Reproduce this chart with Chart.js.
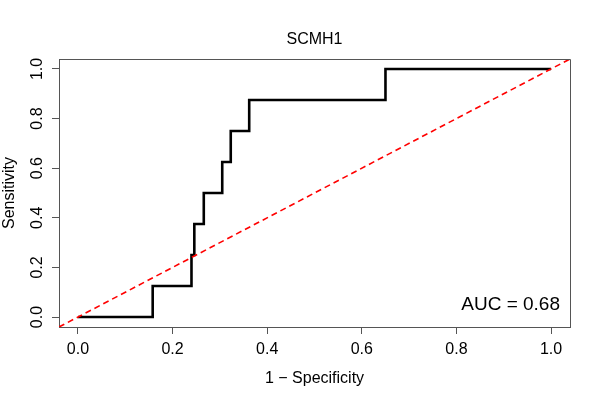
<!DOCTYPE html>
<html>
<head>
<meta charset="utf-8">
<script src="https://cdn.jsdelivr.net/npm/chart.js@4.4.1/dist/chart.umd.min.js"></script>
<style>
  html, body { margin: 0; padding: 0; background: #fff; }
</style>
</head>
<body>
<canvas id="roc" width="600" height="400"></canvas>
<script>
// ROC curve vertices (1 - specificity, sensitivity)
const falsePosRate = [0, 0.158, 0.240, 0.246, 0.266, 0.305, 0.323, 0.362, 0.650, 1.0];
const sensitivity  = [0, 0.125, 0.250, 0.375, 0.500, 0.625, 0.750, 0.875, 1.000, 1.0];
// chance line spans the whole plot region
const chanceLine = [-0.04, 1.04];
const tickValues = [0, 0.2, 0.4, 0.6, 0.8, 1.0];
const axisRange = [-0.04, 1.04];
const chartTitle = 'SCMH1';
const xTitle = '1 \u2212 Specificity';
const yTitle = 'Sensitivity';
const aucLabel = 'AUC = 0.68';

const FONT = '"Liberation Sans", Arial, Helvetica, sans-serif';
const AXIS_COLOR = '#555';

const rocPoints = falsePosRate.map((x, i) => ({ x: x, y: sensitivity[i] }));
const chancePoints = chanceLine.map(v => ({ x: v, y: v }));

// R-style labels, box and annotation
const rPlotDecor = {
  id: 'rPlotDecor',
  afterDraw(chart) {
    const ctx = chart.ctx;
    const area = chart.chartArea;
    const xs = chart.scales.x;
    const ys = chart.scales.y;
    ctx.save();

    // top and right sides of the box
    ctx.strokeStyle = AXIS_COLOR;
    ctx.lineWidth = 1;
    ctx.beginPath();
    ctx.moveTo(Math.round(area.left) + 0.5, Math.round(area.top) + 0.5);
    ctx.lineTo(Math.round(area.right) + 0.5, Math.round(area.top) + 0.5);
    ctx.lineTo(Math.round(area.right) + 0.5, Math.round(area.bottom) + 0.5);
    ctx.stroke();

    ctx.fillStyle = '#000';
    ctx.textAlign = 'center';
    ctx.textBaseline = 'alphabetic';

    // x tick labels
    ctx.font = '16px ' + FONT;
    tickValues.forEach(v => {
      ctx.fillText(v.toFixed(1), xs.getPixelForValue(v), 354);
    });

    // y tick labels, rotated like R's default las=0
    tickValues.forEach(v => {
      ctx.save();
      ctx.translate(42, ys.getPixelForValue(v));
      ctx.rotate(-Math.PI / 2);
      ctx.fillText(v.toFixed(1), 0, 0);
      ctx.restore();
    });

    // titles
    ctx.fillText(chartTitle, (area.left + area.right) / 2, 43.5);
    ctx.fillText(xTitle, (area.left + area.right) / 2, 383);
    ctx.save();
    ctx.translate(13.5, (area.top + area.bottom) / 2);
    ctx.rotate(-Math.PI / 2);
    ctx.fillText(yTitle, 0, 0);
    ctx.restore();

    // AUC annotation
    ctx.font = '19px ' + FONT;
    ctx.textAlign = 'right';
    ctx.fillText(aucLabel, 560, 310);

    ctx.restore();
  }
};

const fixedTicks = scale => {
  scale.ticks = tickValues.map(v => ({ value: v }));
};

new Chart(document.getElementById('roc').getContext('2d'), {
  type: 'scatter',
  data: {
    datasets: [
      {
        label: 'chance',
        data: chancePoints,
        showLine: true,
        borderColor: '#ff0000',
        borderWidth: 1.6,
        borderDash: [6, 4],
        pointRadius: 0,
        fill: false
      },
      {
        label: 'ROC',
        data: rocPoints,
        showLine: true,
        stepped: 'before',
        borderColor: '#000',
        borderWidth: 2.6,
        pointRadius: 0,
        fill: false
      }
    ]
  },
  options: {
    responsive: false,
    animation: false,
    devicePixelRatio: 1,
    layout: { padding: { top: 59, right: 30, left: 0, bottom: 0 } },
    plugins: {
      legend: { display: false },
      title: { display: false },
      tooltip: { enabled: false }
    },
    scales: {
      x: {
        type: 'linear',
        min: axisRange[0],
        max: axisRange[1],
        afterBuildTicks: fixedTicks,
        afterFit: scale => { scale.height = 73; },
        ticks: { display: false },
        grid: { drawOnChartArea: false, drawTicks: true, tickLength: 7, color: AXIS_COLOR },
        border: { display: true, color: AXIS_COLOR, width: 1 }
      },
      y: {
        type: 'linear',
        min: axisRange[0],
        max: axisRange[1],
        afterBuildTicks: fixedTicks,
        afterFit: scale => { scale.width = 59; },
        ticks: { display: false },
        grid: { drawOnChartArea: false, drawTicks: true, tickLength: 7, color: AXIS_COLOR },
        border: { display: true, color: AXIS_COLOR, width: 1 }
      }
    }
  },
  plugins: [rPlotDecor]
});
</script>
</body>
</html>
